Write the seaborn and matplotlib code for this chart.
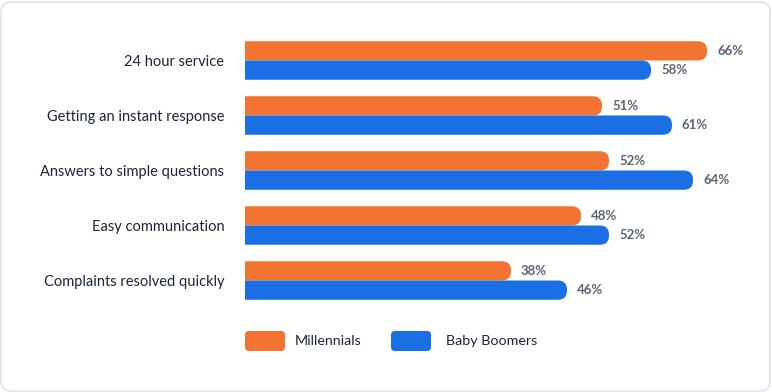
import pandas as pd
import matplotlib.pyplot as plt
import seaborn as sns
from matplotlib.patches import FancyBboxPatch

# chart data
categories = ["24 hour service", "Getting an instant response", "Answers to simple questions",
              "Easy communication", "Complaints resolved quickly"]
millennials = [66, 51, 52, 48, 38]
boomers = [58, 61, 64, 52, 46]
series = ["Millennials", "Baby Boomers"]
colors = ["#F37430", "#1A6FE5"]

df = pd.DataFrame({
    "category": categories * 2,
    "value": millennials + boomers,
    "group": [series[0]] * len(categories) + [series[1]] * len(categories),
})

sns.set_style("white")
plt.rcParams["font.family"] = ["Lato", "DejaVu Sans"]

fig = plt.figure(figsize=(7.72, 3.92), dpi=100)
ax = fig.add_axes([245 / 772, 1 - 308 / 392, 504 / 772, 275 / 392])

sns.barplot(data=df, y="category", x="value", hue="group", palette=colors,
            saturation=1, orient="h", width=0.7, legend=False, ax=ax)

ax.set_xlim(0, 72)
ax.set_ylim(4.5, -0.5)

# round the right ends of the bars
px_x = 504 / 72
px_y = 275 / 5
r_px = 9
r = r_px / px_x
for bar in list(ax.patches):
    x, y, w, h = bar.get_x(), bar.get_y(), bar.get_width(), bar.get_height()
    fc = bar.get_facecolor()
    bar.remove()
    ax.add_patch(FancyBboxPatch((x - r, y), w + r, h,
                                boxstyle=f"round,pad=0,rounding_size={r}",
                                mutation_aspect=px_x / px_y,
                                facecolor=fc, edgecolor="none"))
    ax.text(w + 10 / px_x, y + h / 2, f"{w:.0f}%", va="center", ha="left",
            fontsize=9.5, fontweight="bold", color="#5C6673")

sns.despine(ax=ax, left=True, bottom=True)
ax.set_xlabel("")
ax.set_ylabel("")
ax.set_xticks([])
ax.tick_params(axis="y", length=0, pad=15, labelsize=10.5, labelcolor="#1B2638")

# legend with rounded swatches
legend_x = [2.45, 3.91]
text_x = [2.95, 4.46]
for lx, tx, name, c in zip(legend_x, text_x, series, colors):
    fig.add_artist(FancyBboxPatch((lx, 0.41), 0.40, 0.20,
                                  boxstyle="round,pad=0,rounding_size=0.04",
                                  transform=fig.dpi_scale_trans,
                                  facecolor=c, edgecolor="none"))
    fig.text(tx / 7.72, 0.51 / 3.92, name, va="center", ha="left",
             fontsize=10.3, color="#1B2638")

# card border
fig.add_artist(FancyBboxPatch((0.01, 0.01), 7.69, 3.89,
                              boxstyle="round,pad=0,rounding_size=0.1",
                              transform=fig.dpi_scale_trans,
                              facecolor="none", edgecolor="#E2E3EA", linewidth=1.2,
                              zorder=-1))

fig.savefig("out.png", dpi=100)
